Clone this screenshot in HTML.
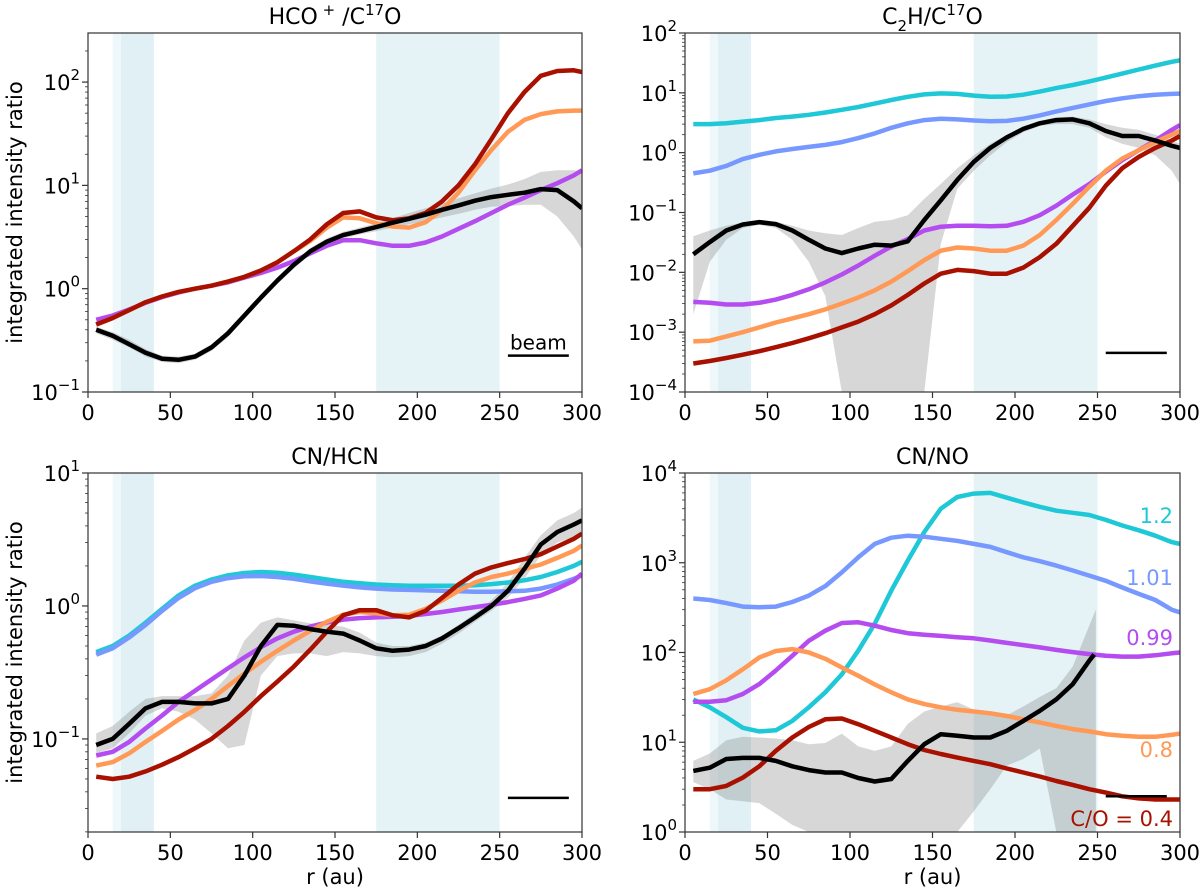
<!DOCTYPE html>
<html><head><meta charset="utf-8"><style>
html,body{margin:0;padding:0;background:#fff;}
svg{display:block;font-family:"DejaVu Sans","Liberation Sans",sans-serif;}
</style></head><body>
<svg id="fig" width="1200" height="888" viewBox="0 0 1200 888" xmlns="http://www.w3.org/2000/svg"></svg>
<script>
const R = [5,15,25,35,45,55,65,75,85,95,105,115,125,135,145,155,165,175,185,195,205,215,225,235,245,255,265,275,285,295,300];
// Panel 1: HCO+/C17O
const p1Red = [0.45,0.52,0.62,0.74,0.84,0.93,1.0,1.07,1.17,1.3,1.5,1.8,2.3,3.0,4.2,5.4,5.6,4.9,4.6,4.8,5.4,7.0,10,16,28,50,80,115,128,130,125];
const p1Orange = [0.45,0.52,0.62,0.74,0.84,0.93,1.0,1.07,1.17,1.3,1.5,1.8,2.3,2.9,3.9,4.9,4.8,4.3,4.0,3.9,4.4,5.8,8.5,14,22,33,43,49,52,53,53];
const p1Purple = [0.5,0.55,0.63,0.73,0.83,0.92,1.0,1.07,1.15,1.28,1.42,1.6,1.85,2.2,2.6,2.95,2.95,2.75,2.6,2.6,2.8,3.2,3.8,4.5,5.4,6.5,7.6,9.0,10.5,12.5,14];
const p1Black = [0.4,0.35,0.29,0.24,0.21,0.205,0.22,0.27,0.37,0.55,0.82,1.2,1.7,2.3,2.85,3.3,3.6,3.95,4.35,4.75,5.2,5.8,6.4,7.1,7.7,8.1,8.5,9.2,9.0,7.0,6.0];
const p1Hi = [0.43,0.38,0.32,0.26,0.225,0.22,0.235,0.29,0.4,0.59,0.88,1.29,1.83,2.48,3.07,3.55,3.9,4.3,4.8,5.4,6.0,6.7,7.5,8.4,9.3,10.2,11.5,13.5,14,14,13.5];
const p1Lo = [0.37,0.32,0.27,0.22,0.195,0.19,0.205,0.25,0.34,0.51,0.76,1.11,1.57,2.13,2.64,3.05,3.35,3.6,3.9,4.2,4.5,4.9,5.3,5.8,6.2,6.3,6.5,6.5,5.0,3.2,2.4];
// Panel 2: C2H/C17O
const p2Cyan = [3.0,3.0,3.1,3.3,3.5,3.8,4.0,4.3,4.7,5.2,5.8,6.6,7.6,8.6,9.4,9.8,9.6,9.0,8.6,8.7,9.3,10.5,12,13.5,15.5,18,21,24.5,28.5,33,35];
const p2Blue = [0.45,0.5,0.6,0.78,0.92,1.05,1.15,1.25,1.35,1.5,1.75,2.1,2.6,3.1,3.5,3.7,3.6,3.45,3.35,3.4,3.7,4.2,4.9,5.6,6.4,7.3,8.1,8.8,9.3,9.6,9.7];
const p2Purple = [0.0032,0.0031,0.0029,0.0029,0.0031,0.0035,0.0042,0.0052,0.0068,0.0092,0.013,0.019,0.027,0.036,0.05,0.058,0.06,0.06,0.059,0.06,0.07,0.09,0.13,0.2,0.3,0.48,0.75,1.1,1.6,2.4,2.9];
const p2Orange = [0.0007,0.00072,0.00085,0.001,0.0012,0.00145,0.0017,0.002,0.0024,0.003,0.0038,0.005,0.007,0.0105,0.016,0.023,0.026,0.025,0.023,0.023,0.028,0.042,0.075,0.14,0.27,0.5,0.8,1.1,1.5,2.0,2.3];
const p2Red = [0.0003,0.00033,0.00037,0.00042,0.00048,0.00056,0.00066,0.00079,0.00096,0.0012,0.0015,0.002,0.0028,0.0042,0.0065,0.0095,0.011,0.0105,0.0095,0.0095,0.012,0.018,0.03,0.06,0.12,0.28,0.55,0.85,1.2,1.6,1.9];
const p2Black = [0.02,0.032,0.05,0.063,0.069,0.064,0.05,0.035,0.025,0.021,0.025,0.029,0.028,0.033,0.075,0.16,0.35,0.7,1.2,1.8,2.5,3.1,3.5,3.6,3.1,2.3,1.9,1.9,1.6,1.3,1.2];
const p2Hi = [0.04,0.05,0.06,0.068,0.072,0.07,0.06,0.05,0.045,0.042,0.055,0.07,0.075,0.09,0.17,0.3,0.55,0.9,1.4,2.0,2.7,3.4,3.9,4.0,3.6,3.0,2.6,2.4,2.0,1.6,1.4];
const p2Lo = [0.002,0.015,0.035,0.055,0.062,0.055,0.035,0.015,0.004,0.0001,0.0001,0.0001,0.0001,0.0001,0.0001,0.03,0.25,0.5,0.9,1.5,2.2,2.8,3.0,3.0,2.6,1.8,1.4,1.2,0.9,0.5,0.3];
// Panel 3: CN/HCN
const p3Cyan = [0.45,0.5,0.6,0.75,0.95,1.2,1.42,1.58,1.7,1.77,1.8,1.78,1.72,1.65,1.58,1.52,1.48,1.45,1.43,1.42,1.42,1.42,1.42,1.43,1.46,1.5,1.56,1.65,1.8,2.0,2.15];
const p3Blue = [0.43,0.48,0.58,0.72,0.92,1.15,1.36,1.52,1.62,1.67,1.68,1.65,1.6,1.53,1.47,1.42,1.38,1.35,1.33,1.32,1.31,1.3,1.29,1.28,1.28,1.29,1.3,1.35,1.45,1.6,1.7];
const p3Purple = [0.075,0.08,0.095,0.12,0.15,0.19,0.23,0.28,0.34,0.41,0.49,0.57,0.64,0.7,0.75,0.79,0.81,0.82,0.83,0.84,0.87,0.9,0.94,0.98,1.02,1.07,1.13,1.2,1.35,1.55,1.75];
const p3Orange = [0.063,0.067,0.078,0.095,0.115,0.14,0.165,0.2,0.25,0.31,0.38,0.46,0.55,0.65,0.76,0.86,0.9,0.88,0.85,0.86,0.95,1.1,1.3,1.5,1.65,1.75,1.9,2.05,2.3,2.6,2.85];
const p3Red = [0.052,0.05,0.052,0.057,0.064,0.073,0.085,0.1,0.125,0.16,0.21,0.27,0.35,0.47,0.64,0.85,0.93,0.93,0.85,0.82,0.92,1.15,1.45,1.75,1.95,2.1,2.25,2.45,2.8,3.2,3.5];
const p3Black = [0.09,0.1,0.13,0.17,0.19,0.19,0.185,0.185,0.2,0.3,0.5,0.72,0.71,0.67,0.64,0.62,0.55,0.48,0.46,0.47,0.5,0.57,0.68,0.82,1.0,1.3,1.9,2.9,3.6,4.1,4.4];
const p3Hi = [0.11,0.125,0.16,0.2,0.21,0.21,0.21,0.22,0.3,0.55,0.75,0.82,0.78,0.74,0.72,0.7,0.63,0.53,0.5,0.5,0.53,0.6,0.72,0.88,1.1,1.5,2.3,3.4,4.4,5.0,5.5];
const p3Lo = [0.078,0.085,0.11,0.15,0.17,0.16,0.14,0.11,0.085,0.09,0.3,0.42,0.44,0.44,0.42,0.45,0.44,0.42,0.41,0.42,0.45,0.52,0.62,0.76,0.92,1.15,1.6,2.4,3.0,3.3,3.4];
// Panel 4: CN/NO
const p4Cyan = [30,24.5,19,14.5,13.2,13.6,17.3,24.5,36,57,105,210,490,1060,2200,4000,5400,5900,6000,5300,4700,4200,3800,3600,3400,3000,2600,2300,2000,1700,1620];
const p4Blue = [400,385,355,325,320,325,365,430,550,780,1150,1620,1900,2000,1950,1850,1750,1620,1500,1310,1150,1040,930,820,720,630,530,450,385,300,280];
const p4Purple = [28.3,28.3,29.4,34.5,44.5,63,92,135,175,213,217,199,178,164,158,153,148,144,136,128,121,114,107,101,96,92,90,90,93,98,100];
const p4Orange = [34.5,39,49,65,88,104,109,100,85,68,55,44,36,30,26.6,24.5,23,22,21,19.6,18,16.6,15.2,14,13.2,12.3,11.8,11.5,11.5,12.1,12.5];
const p4Red = [3.0,3.0,3.26,4.04,5.4,8.0,11.3,14.8,18,18.4,15.9,13.4,11.3,9.5,8.2,7.4,6.75,6.2,5.7,5.1,4.6,4.15,3.7,3.35,3.0,2.75,2.5,2.37,2.3,2.3,2.3];
const p4Black = [4.8,5.2,6.5,6.7,6.7,6.2,5.4,4.9,4.6,4.6,4.0,3.65,3.9,6.2,9.5,12.3,11.8,11.3,11.3,13.4,17.3,22.4,30,44.5,81,null,null,null,null,null,null];
const p4Hi = [6.2,7.5,10.5,11.5,11.3,11,10.5,9.5,9.8,12.5,9,8,9,16,22,25,28,23,20,20,25,32,40,70,200,null,null,null,null,null,null];
const p4Lo = [3.6,3.0,2.3,2.2,2.1,1.6,1.2,1.0,1.0,1.0,1.0,1.0,1.0,1.0,1.0,1.0,1.0,1.7,3,5.5,6.5,8.5,1.0,1.0,1.0,null,null,null,null,null,null];
const coLabels = ["1.2","1.01","0.99","0.8","C/O = 0.4"];
const xTicks = [0,50,100,150,200,250,300];

const C = {red:"#a81000",orange:"#ff9955",purple:"#b44cf0",blue:"#7799ff",cyan:"#1ec8d6"};
const NS = "http://www.w3.org/2000/svg";
const svg = document.getElementById('fig');
function el(tag, attrs, parent){const e=document.createElementNS(NS,tag);for(const k in attrs)e.setAttribute(k,attrs[k]);(parent||svg).appendChild(e);return e;}

const panels = [
 {key:"hco", x0:88,x1:582,y0:33,y1:392,lmin:-1,lmax:2.475,ticks:[-1,0,1,2],title:'HCO<tspan dy="-9" font-size="15"> +</tspan><tspan dy="9"> /C</tspan><tspan dy="-9" font-size="15">17</tspan><tspan dy="9">O</tspan>',ylab:true,xlab:false,
  lines:[["purple",p1Purple],["orange",p1Orange],["red",p1Red]],black:p1Black,hi:p1Hi,lo:p1Lo,beam:[255,292,0.225],beamText:true},
 {key:"c2h", x0:685,x1:1180,y0:33,y1:392,lmin:-4,lmax:2,ticks:[-4,-3,-2,-1,0,1,2],title:'C<tspan dy="7" font-size="15">2</tspan><tspan dy="-7">H/C</tspan><tspan dy="-9" font-size="15">17</tspan><tspan dy="9">O</tspan>',ylab:false,xlab:false,
  lines:[["cyan",p2Cyan],["blue",p2Blue],["purple",p2Purple],["orange",p2Orange],["red",p2Red]],black:p2Black,hi:p2Hi,lo:p2Lo,beam:[255,292,0.00045]},
 {key:"cnhcn", x0:88,x1:582,y0:473,y1:832,lmin:-1.70,lmax:1,ticks:[-1,0,1],title:'CN/HCN',ylab:true,xlab:true,
  lines:[["cyan",p3Cyan],["blue",p3Blue],["purple",p3Purple],["orange",p3Orange],["red",p3Red]],black:p3Black,hi:p3Hi,lo:p3Lo,beam:[255,292,0.036]},
 {key:"cnno", x0:685,x1:1180,y0:473,y1:832,lmin:0,lmax:4,ticks:[0,1,2,3,4],title:'CN/NO',ylab:false,xlab:true,
  lines:[["cyan",p4Cyan],["blue",p4Blue],["purple",p4Purple],["orange",p4Orange],["red",p4Red]],black:p4Black,hi:p4Hi,lo:p4Lo,beam:[255,292,2.5],labels:true}
];

panels.forEach(p=>{
  const g = el('g',{});
  
  
  const X = r => p.x0 + (r/300)*(p.x1-p.x0);
  const Y = v => p.y1 - (Math.log10(Math.max(v,1e-12))-p.lmin)/(p.lmax-p.lmin)*(p.y1-p.y0);
  const cp = 'clip-'+p.key;
  const cl = el('clipPath',{id:cp},g); el('rect',{x:p.x0,y:p.y0,width:p.x1-p.x0,height:p.y1-p.y0},cl);
  const inner = el('g',{'clip-path':'url(#'+cp+')'},g);
  const s1=el('rect',{x:X(15),y:p.y0,width:X(20)-X(15),height:p.y1-p.y0,fill:"#eef7fa"},inner);
   
  const s2=el('rect',{x:X(20),y:p.y0,width:X(40)-X(20),height:p.y1-p.y0,fill:"#e1f0f5"},inner);
   
  const s3=el('rect',{x:X(175),y:p.y0,width:X(250)-X(175),height:p.y1-p.y0,fill:"#e5f3f7"},inner);
   
  const up=[],dn=[];
  R.forEach((r,i)=>{ if(p.hi[i]!=null){up.push(X(r).toFixed(1)+','+Y(p.hi[i]).toFixed(1)); dn.push(X(r).toFixed(1)+','+Y(p.lo[i]).toFixed(1));}});
  if(p.key==="cnno"){up.push(X(249)+','+Y(300)); dn.push(X(249)+','+Y(1));}
  const band = el('polygon',{points:up.concat(dn.reverse()).join(' '),fill:"rgba(130,130,130,0.32)"},inner);
   
  p.lines.forEach(([c,arr])=>{
    const pts = R.map((r,i)=>X(r).toFixed(1)+','+Y(arr[i]).toFixed(1)).join(' ');
    const l = el('polyline',{points:pts,fill:'none',stroke:C[c],'stroke-width':4.5,'stroke-linejoin':'round'},inner);
     
  });
  const bpts=[]; R.forEach((r,i)=>{ if(p.black[i]!=null) bpts.push(X(r).toFixed(1)+','+Y(p.black[i]).toFixed(1));});
  if(p.key==="cnno") bpts.push(X(248)+','+Y(95));
  const bl = el('polyline',{points:bpts.join(' '),fill:'none',stroke:'#000','stroke-width':4.5,'stroke-linejoin':'round'},inner);
   
  const bm = el('line',{x1:X(p.beam[0]),x2:X(p.beam[1]),y1:Y(p.beam[2]),y2:Y(p.beam[2]),stroke:'#000','stroke-width':2.5},g);
   
  if(p.beamText){const t=el('text',{x:(X(p.beam[0])+X(p.beam[1]))/2,y:Y(p.beam[2])-6,'font-size':20,'text-anchor':'middle'},g);t.textContent='beam';
     }
  el('rect',{x:p.x0,y:p.y0,width:p.x1-p.x0,height:p.y1-p.y0,fill:'none',stroke:'#333','stroke-width':1.2},g);
  for(let d=Math.floor(p.lmin); d<=Math.ceil(p.lmax); d++){
    for(let m=1;m<10;m++){
      const lv=d+Math.log10(m); if(lv<p.lmin-1e-6||lv>p.lmax+1e-6) continue;
      const yy=Y(Math.pow(10,lv));
      el('line',{x1:p.x0-(m===1?6:3),x2:p.x0,y1:yy,y2:yy,stroke:'#333','stroke-width':m===1?1.2:0.8},g);
    }
  }
  p.ticks.forEach(d=>{
    const t=el('text',{x:p.x0-8,y:Y(Math.pow(10,d))+8,'font-size':21,'text-anchor':'end'},g);
    t.innerHTML='10<tspan dy="-10" font-size="15">'+(d<0?'\u2212'+(-d):d)+'</tspan>';
     
  });
  xTicks.forEach(v=>{
    el('line',{x1:X(v),x2:X(v),y1:p.y1,y2:p.y1+6,stroke:'#333','stroke-width':1.2},g);
    const t=el('text',{x:X(v),y:p.y1+28,'font-size':21,'text-anchor':'middle'},g); t.textContent=v;
     
  });
  const tt=el('text',{x:(p.x0+p.x1)/2,y:p.y0-9,'font-size':22,'text-anchor':'middle'},g); tt.innerHTML=p.title;
   
  if(p.ylab){const t=el('text',{x:0,y:0,'font-size':21,'text-anchor':'middle',transform:'translate(22,'+((p.y0+p.y1)/2)+') rotate(-90)'},g);t.textContent='integrated intensity ratio';
     }
  if(p.xlab){const t=el('text',{x:(p.x0+p.x1)/2,y:p.y1+52,'font-size':21,'text-anchor':'middle'},g);t.textContent='r (au)';
     }
  if(p.labels){
    const cols=["cyan","blue","purple","orange","red"]; const ys=[515,577,637,749,818];
    coLabels.forEach((s,i)=>{const t=el('text',{x:1173,y:ys[i]+8,'font-size':21,'text-anchor':'end',fill:C[cols[i]]},g);t.textContent=s;
       });
  }
});
</script>
</body></html>
